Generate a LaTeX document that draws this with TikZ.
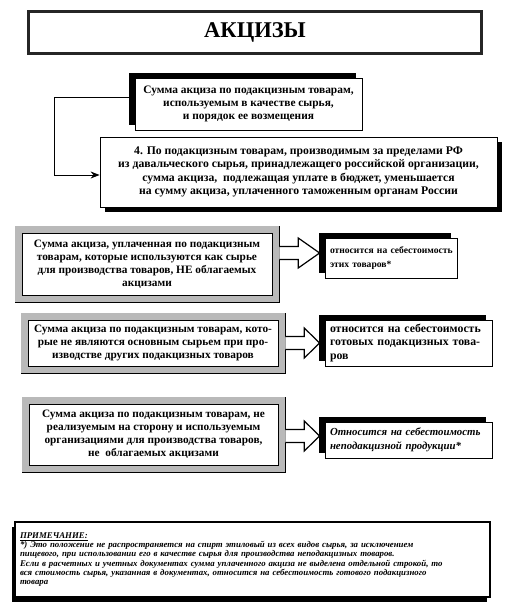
\documentclass[tikz,border=0pt]{standalone}
\usepackage{fontspec}
\setmainfont{Liberation Serif}
\usetikzlibrary{calc,shadows,arrows.meta}
\newcommand\blockarr[3]{%
  \filldraw[barrow] let \p1=(#1.east), \p2=(#2.west) in
  (\x1+7pt,\y2+#3+6.5pt) -- (\x1+26pt,\y2+#3+6.5pt) -- (\x1+26pt,\y2+#3+15pt) --
  (\x2-5pt,\y2+#3) -- (\x1+26pt,\y2+#3-15pt) -- (\x1+26pt,\y2+#3-6.5pt) -- (\x1+7pt,\y2+#3-6.5pt);}
\begin{document}
\begin{tikzpicture}[x=1pt,y=-1pt,
  every node/.style={font=\bfseries\fontsize{11.3}{13}\selectfont, align=center, inner sep=0pt},
  titlebox/.style={draw=black!85, line width=3pt, fill=white, minimum width=453pt, minimum height=42pt,
    font=\bfseries\fontsize{22.5}{26}\selectfont},
  plainbox/.style={draw=black, line width=0.8pt, fill=white},
  shadowTL/.style={drop shadow={shadow xshift=-6pt, shadow yshift=5pt, fill=black, opacity=1}},
  shadowBR/.style={drop shadow={shadow xshift=5pt, shadow yshift=-5pt, fill=black, opacity=1}},
  shadowBL/.style={drop shadow={shadow xshift=-3pt, shadow yshift=-5pt, fill=black, opacity=1}},
  hatchbox/.style={fill=white, draw=black, line width=0.5pt,
    preaction={draw=black, line width=15pt},
    preaction={draw=gray!55, line width=14pt}},
  rbox/.style={plainbox, shadowTL, align=left, inner xsep=5pt},
  conn/.style={draw=black, line width=1pt, -{Stealth[length=9pt,width=7pt]}},
  barrow/.style={fill=white, draw=black, line width=1.2pt, line join=miter},
]
\useasboundingbox (0,0) rectangle (506,614);

\node[titlebox] (t) at (255,32.5) {АКЦИЗЫ};

\node[plainbox, shadowTL, minimum width=227pt, minimum height=52pt,
  font=\bfseries\fontsize{11.4}{12.7}\selectfont] (n1) at (248.5,104)
  {Сумма акциза по подакцизным товарам,\\используемым в качестве сырья,\\и порядок ее возмещения};

\node[plainbox, shadowBR, minimum width=397pt, minimum height=70pt,
  font=\bfseries\fontsize{11.7}{13.3}\selectfont] (n2) at (298.5,172)
  {4. По подакцизным товарам, производимым за пределами РФ\\
   из давальческого сырья, принадлежащего российской организации,\\
   сумма акциза,\ \ подлежащая уплате в бюджет, уменьшается\\
   на сумму акциза, уплаченного таможенным органам России};

\draw[conn] ([yshift=7pt]n1.west) -- ++(-80,0) |- ([yshift=-3pt]n2.west);

\node[hatchbox, minimum width=250pt, minimum height=62pt] (b3) at (147,264)
  {Сумма акциза, уплаченная по подакцизным\\товарам, которые используются как сырье\\
   для производства товаров, НЕ облагаемых\\акцизами};
\node[hatchbox, minimum width=250pt, minimum height=46pt] (b4) at (153,343)
  {Сумма акциза по подакцизным товарам, кото-\\рые не являются основным сырьем при про-\\
   изводстве других подакцизных товаров};
\node[hatchbox, minimum width=249pt, minimum height=61pt] (b5) at (153.5,434.5)
  {Сумма акциза по подакцизным товарам, не\\реализуемым на сторону и используемым\\
   организациями для производства товаров,\\не\ \ облагаемых акцизами};

\node[rbox, text width=122pt, minimum height=40pt,
  font=\bfseries\fontsize{9.6}{14.5}\selectfont] (r3) at (391,258)
  {\mbox{относится на себестоимость}\\этих товаров*};
\node[rbox, text width=157pt, minimum height=46pt,
  font=\bfseries\fontsize{11.8}{13.5}\selectfont] (r4) at (408.5,343)
  {относится на себестоимость\\готовых подакцизных това-\\ров};
\node[rbox, text width=157pt, minimum height=36pt,
  font=\bfseries\itshape\fontsize{10.8}{14}\selectfont] (r5) at (408.5,440)
  {\mbox{Относится на себестоимость}\\\mbox{неподакцизной продукции*}};

\blockarr{b3}{r3}{5pt}
\blockarr{b4}{r4}{0pt}
\blockarr{b5}{r5}{4pt}

\node[plainbox, line width=1.2pt, shadowBL, text width=465pt, inner xsep=5pt, minimum height=75pt, align=left,
  font=\bfseries\itshape\fontsize{8.8}{9.2}\selectfont] (note) at (252.5,559.5)
  {\underline{ПРИМЕЧАНИЕ:}\\
   {*}) Это положение не распространяется на спирт этиловый из всех видов сырья, за исключением\\
   пищевого, при использовании его в качестве сырья для производства неподакцизных товаров.\\
   Если в расчетных и учетных документах сумма уплаченного акциза не выделена отдельной строкой, то\\
   вся стоимость сырья, указанная в документах, относится на себестоимость готового подакцизного\\
   товара};
\end{tikzpicture}
\end{document}
